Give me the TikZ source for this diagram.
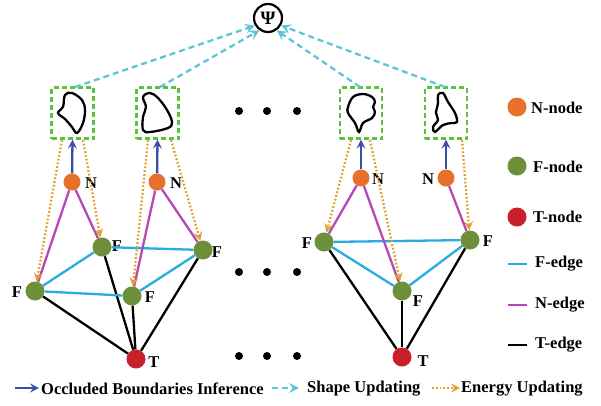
\documentclass[tikz,border=0pt]{standalone}
\usepackage{fontspec}
\setmainfont{Liberation Serif}
\usetikzlibrary{arrows.meta}
\definecolor{nodeN}{HTML}{E8702A}
\definecolor{nodeF}{HTML}{6E8F3A}
\definecolor{nodeT}{HTML}{C8202A}
\definecolor{edgeF}{HTML}{2AAAE2}
\definecolor{edgeN}{HTML}{B548B5}
\definecolor{arrB}{HTML}{3A4FA8}
\definecolor{arrC}{HTML}{5CC6D6}
\definecolor{arrO}{HTML}{E0A030}
\definecolor{boxG}{HTML}{5CC23C}
\tikzset{
  nn/.style={circle,fill=nodeN,minimum size=17pt,inner sep=0pt},
  fn/.style={circle,fill=nodeF,minimum size=19pt,inner sep=0pt},
  tn/.style={circle,fill=nodeT,minimum size=19pt,inner sep=0pt},
  lbl/.style={font=\fontsize{16.5}{18}\selectfont\bfseries,inner sep=0pt},
  legtxt/.style={font=\fontsize{16.5}{18}\selectfont\bfseries,inner sep=0pt,anchor=west},
  shapebox/.style={draw=boxG,line width=2.2pt,dash pattern=on 5pt off 3pt,minimum width=42pt,minimum height=51pt,inner sep=0pt},
  fedge/.style={edgeF,line width=2.3pt},
  nedge/.style={edgeN,line width=2.3pt},
  tedge/.style={black,line width=2.3pt},
  infer/.style={arrB,line width=2.3pt,-{Stealth[length=9pt,width=9pt,inset=3.5pt]}},
  shupd/.style={arrC,line width=2.3pt,dash pattern=on 6pt off 4pt,-{Stealth[length=10pt,width=10pt,inset=4pt]}},
  enupd/.style={arrO,line width=2.3pt,dash pattern=on 1.8pt off 2pt,-{Stealth[length=9pt,width=9pt,inset=3.5pt]}},
  blob/.style={black,line width=2.3pt},
  dotp/.style={circle,fill=black,minimum size=8pt,inner sep=0pt},
}
\begin{document}
\begin{tikzpicture}[x=1pt,y=-1pt]
\useasboundingbox (0,0) rectangle (601,405);
% Psi
\node[draw,circle,line width=2.2pt,minimum size=28pt,inner sep=0pt,font=\fontsize{19}{20}\selectfont\bfseries] (psi) at (268,18) {Ψ};
% boxes
\node[shapebox] (b1) at (72.5,113) {};
\node[shapebox] (b2) at (157.5,113) {};
\node[shapebox] (b3) at (361,113) {};
\node[shapebox] (b4) at (446,113) {};
% blobs
\draw[blob] plot[smooth cycle,tension=0.6] coordinates {(65,95) (72,93) (82,100) (85,110) (83,123) (77,133) (72,127) (65,119) (58,113) (63,107)};
\draw[blob] plot[smooth cycle,tension=0.6] coordinates {(143,97) (150,93) (158,98) (167,110) (172,122) (168,128) (150,132) (143,130) (143,117) (146,107)};
\draw[blob] plot[smooth cycle,tension=0.6] coordinates {(348,107) (353,97) (363,94) (372,97) (375,102) (373,107) (375,112) (372,118) (363,123) (359,132) (355,123) (348,113)};
\draw[blob] plot[smooth cycle,tension=0.6] coordinates {(438,95) (443,93) (448,102) (455,113) (457,122) (452,123) (443,125) (435,132) (433,127) (438,120) (436,113) (438,103)};
% N nodes
\node[nn] (n1) at (72,182) {};
\node[nn] (n2) at (157,182) {};
\node[nn] (n3) at (361,178) {};
\node[nn] (n4) at (446,178) {};
\node[lbl] (ln1) at (91,183) {N};
\node[lbl] (ln2) at (176,183) {N};
\node[lbl] (ln3) at (378,179) {N};
\node[lbl] (ln4) at (428,179) {N};
% F and T nodes, left group
\node[fn] (fa) at (102,247) {};
\node[fn] (fb) at (203,250) {};
\node[fn] (fc) at (35,291) {};
\node[fn] (fd) at (132,296) {};
\node[tn] (t1) at (136,359) {};
% right group
\node[fn] (fe) at (324,242) {};
\node[fn] (ff) at (470,240) {};
\node[fn] (fg) at (402,291) {};
\node[tn] (t2) at (402,357) {};
% labels
\node[lbl] (lfa) at (117,246) {F};
\node[lbl] (lfb) at (217,252) {F};
\node[lbl] (lfc) at (17,292) {F};
\node[lbl] (lfd) at (150,297) {F};
\node[lbl] (lt1) at (154,362) {T};
\node[lbl] (lfe) at (307,243) {F};
\node[lbl] (lff) at (488,241) {F};
\node[lbl] (lfg) at (418,301) {F};
\node[lbl] (lt2) at (423,361) {T};
% edges: T
\draw[tedge] (fc) -- (t1);
\draw[tedge] (fa) -- (t1);
\draw[tedge] (fd) -- (t1);
\draw[tedge] (fb) -- (t1);
\draw[tedge] (fe) -- (t2);
\draw[tedge] (fg) -- (t2);
\draw[tedge] (ff) -- (t2);
% edges: F
\draw[fedge] (fa) -- (fb);
\draw[fedge] (fc) -- (fd);
\draw[fedge] (fc) -- (fa);
\draw[fedge] (fd) -- (fb);
\draw[fedge] (fe) -- (ff);
\draw[fedge] (fe) -- (fg);
\draw[fedge] (fg) -- (ff);
% edges: N
\draw[nedge] (n1) -- (fc);
\draw[nedge] (n1) -- (fa);
\draw[nedge] (n2) -- (fd);
\draw[nedge] (n2) -- (fb);
\draw[nedge] (n3) -- (fe);
\draw[nedge] (n3) -- (fg);
\draw[nedge] (n4) -- (ff);
% energy updating
\coordinate (e1a) at (62,140);
\coordinate (e1b) at (83,140);
\coordinate (e2a) at (148,140);
\coordinate (e2b) at (171,140);
\coordinate (e3a) at (351,140);
\coordinate (e3b) at (370,140);
\coordinate (e4a) at (462,140);
\draw[enupd] (e1a) -- (fc);
\draw[enupd] (e1b) -- (fa);
\draw[enupd] (e2a) -- (fd);
\draw[enupd] (e2b) -- (fb);
\draw[enupd] (e3a) -- (fe);
\draw[enupd] (e3b) -- (fg);
\draw[enupd] (e4a) -- (ff);
% inference
\draw[infer] (n1) -- (b1.south);
\draw[infer] (n2) -- (b2.south);
\draw[infer] (n3) -- (b3.south);
\draw[infer] (n4) -- (b4.south);
% shape updating
\coordinate (s1) at (75,87);
\coordinate (s2) at (160,87);
\coordinate (s3) at (360,87);
\coordinate (s4) at (445,87);
\draw[shupd] (s1) -- (psi.210);
\draw[shupd] (s2) -- (psi.235);
\draw[shupd] (s3) -- (psi.305);
\draw[shupd] (s4) -- (psi.330);
% dots
\foreach \yy/\nm in {111/a,272/b,356/c}{
  \node[dotp] (d1\nm) at (239,\yy) {};
  \node[dotp] (d2\nm) at (267,\yy) {};
  \node[dotp] (d3\nm) at (297,\yy) {};
}
% right legend
\node[nn,minimum size=19pt] (lgn) at (517,107) {};
\node[fn] (lgf) at (517,166) {};
\node[tn] (lgt) at (517,217) {};
\node[legtxt] (tgn) at (531,108) {N-node};
\node[legtxt] (tgf) at (533,167) {F-node};
\node[legtxt] (tgt) at (533,217) {T-node};
\coordinate (lfe1) at (508,264);
\coordinate (lfe2) at (527,264);
\coordinate (lne1) at (508,305);
\coordinate (lne2) at (527,305);
\coordinate (lte1) at (508,345);
\coordinate (lte2) at (527,345);
\draw[fedge] (lfe1) -- (lfe2);
\draw[nedge] (lne1) -- (lne2);
\draw[tedge] (lte1) -- (lte2);
\node[legtxt] (tfe) at (535,264) {F-edge};
\node[legtxt] (tne) at (535,305) {N-edge};
\node[legtxt] (tte) at (535,345) {T-edge};
% bottom legend
\coordinate (li1) at (15,388);
\coordinate (li2) at (39,388);
\draw[infer] (li1) -- (li2);
\node[legtxt] (tli) at (41,389) {Occluded Boundaries Inference};
\coordinate (ls1) at (272,388);
\coordinate (ls2) at (299,388);
\draw[shupd] (ls1) -- (ls2);
\node[legtxt] (tls) at (307,389) {Shape Updating};
\coordinate (le1) at (432,388);
\coordinate (le2) at (460,388);
\draw[enupd] (le1) -- (le2);
\node[legtxt] (tle) at (461,389) {Energy Updating};
\end{tikzpicture}
\end{document}
